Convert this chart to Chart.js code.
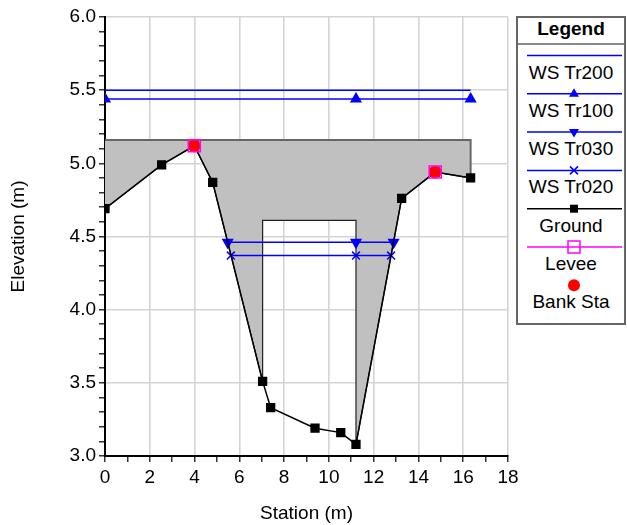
<!DOCTYPE html>
<html>
<head>
<meta charset="utf-8">
<script src="https://cdn.jsdelivr.net/npm/chart.js@4.4.0/dist/chart.umd.min.js"></script>
<style>
  body { margin: 0; background: #fff; }
  #wrap { position: relative; width: 627px; height: 525px; font-family: "Liberation Sans", Arial, sans-serif; }
  #legend { position: absolute; left: 516px; top: 16px; width: 110px; height: 309px; box-sizing: border-box;
            border: 2px solid #666; background: #fff; }
  #legend svg { position: absolute; left: 0; top: 0; }
  .lg-text { position: absolute; left: 0; width: 106px; text-align: center; font-size: 19px; line-height: 22px; color: #000; }
  .lg-title { font-weight: bold; }
</style>
</head>
<body>
<div id="wrap">
  <canvas id="xs" width="627" height="525"></canvas>
  <div id="legend"></div>
</div>
<script>
// cross section, station (m) / elevation (m)
const groundSta  = [0, 2.53, 3.99, 4.81, 7.04, 7.40, 9.38, 10.53, 11.21, 13.25, 14.75, 16.33];
const groundElev = [4.69, 4.99, 5.12, 4.87, 3.51, 3.33, 3.19, 3.16, 3.08, 4.76, 4.94, 4.90];

const leveeSta  = [3.99, 14.75];
const leveeElev = [5.12, 4.94];
const bankSta   = [3.99, 14.75];
const bankElev  = [5.12, 4.94];

// bridge deck and opening
const deckSta  = [0, 16.33, 16.33];
const deckElev = [5.16, 5.16, 4.90];
const openingSta  = [7.04, 7.04, 11.21, 11.21];
const openingElev = [3.51, 4.61, 4.61, 3.08];

const wsTr200Sta = [0, 11.21, 16.33];
const wsTr200    = [5.50, 5.50, 5.50];
const wsTr100Sta = [0, 11.21, 16.33];
const wsTr100    = [5.44, 5.44, 5.44];
const wsTr030Sta = [5.48, 11.21, 12.89];
const wsTr030    = [4.46, 4.46, 4.46];
const wsTr020Sta = [5.62, 11.21, 12.78];
const wsTr020    = [4.37, 4.37, 4.37];

const xTicks = [0, 2, 4, 6, 8, 10, 12, 14, 16, 18];
const yTicks = [3.0, 3.5, 4.0, 4.5, 5.0, 5.5, 6.0];

function pts(xs, ys) {
    return xs.map((x, i) => ({ x: x, y: ys[i] }));
}

// lower edge of the gray deck area: ground, then around the opening
const deckBottom = pts(groundSta, groundElev).filter(p => p.x < openingSta[0])
    .concat(pts(openingSta, openingElev))
    .concat(pts(groundSta, groundElev).filter(p => p.x > openingSta[3]));

const blue = '#0000ff';

Chart.defaults.font.family = '"Liberation Sans", Arial, sans-serif';
Chart.defaults.font.size = 19;
Chart.defaults.color = '#000';

function isMajor(v, list) {
    return list.some(t => Math.abs(t - v) < 1e-6);
}

new Chart(document.getElementById('xs').getContext('2d'), {
    type: 'scatter',
    data: {
        datasets: [
            { label: 'Levee', data: pts(leveeSta, leveeElev), showLine: false, order: 0,
              pointStyle: 'rect', pointRadius: 8.5, pointBackgroundColor: 'rgba(0,0,0,0)',
              pointBorderColor: '#ff00ff', pointBorderWidth: 1.5 },
            { label: 'Bank Sta', data: pts(bankSta, bankElev), showLine: false, order: 1,
              pointStyle: 'circle', pointRadius: 6, pointBackgroundColor: '#ff0000', pointBorderColor: '#ff0000' },
            { label: 'Ground', data: pts(groundSta, groundElev), showLine: true, order: 2,
              borderColor: '#000', borderWidth: 1.5, pointStyle: 'rect', pointRadius: 5.5,
              pointBackgroundColor: '#000', pointBorderColor: '#000' },
            { label: 'WS Tr020', data: pts(wsTr020Sta, wsTr020), showLine: true, order: 3,
              borderColor: blue, borderWidth: 1.5, pointStyle: 'crossRot', pointRadius: 5.5,
              pointBorderColor: blue, pointBorderWidth: 1.5 },
            { label: 'WS Tr030', data: pts(wsTr030Sta, wsTr030), showLine: true, order: 4,
              borderColor: blue, borderWidth: 1.5, pointStyle: 'triangle', pointRotation: 180, pointRadius: 5.5,
              pointBackgroundColor: blue, pointBorderColor: blue },
            { label: 'WS Tr100', data: pts(wsTr100Sta, wsTr100), showLine: true, order: 5,
              borderColor: blue, borderWidth: 1.5, pointStyle: 'triangle', pointRadius: 5.5,
              pointBackgroundColor: blue, pointBorderColor: blue },
            { label: 'WS Tr200', data: pts(wsTr200Sta, wsTr200), showLine: true, order: 6,
              borderColor: blue, borderWidth: 1.5, pointRadius: 0 },
            { label: 'deck', data: pts(deckSta, deckElev), showLine: true, order: 7,
              borderColor: '#666', borderWidth: 2, pointRadius: 0 },
            { label: 'deckFill', data: deckBottom, showLine: true, order: 8,
              borderColor: '#222', borderWidth: 1.2, pointRadius: 0,
              fill: { value: deckElev[0] }, backgroundColor: '#c0c0c0' }
        ]
    },
    options: {
        responsive: false,
        animation: false,
        layout: { padding: { top: 17, right: 119, left: 0, bottom: 0 } },
        plugins: { legend: { display: false }, tooltip: { enabled: false } },
        scales: {
            x: {
                type: 'linear', min: 0, max: 18,
                afterFit: s => { s.height = 69; },
                ticks: { stepSize: 1, autoSkip: false, maxRotation: 0, padding: 4,
                         callback: v => isMajor(v, xTicks) ? v : '' },
                grid: { color: c => (c.tick && isMajor(c.tick.value, xTicks)) ? '#d4d4d4' : 'rgba(0,0,0,0)',
                        lineWidth: 1.6, tickColor: '#000', tickWidth: 1.2, tickLength: 6 },
                border: { color: '#000', width: 2 },
                title: { display: true, text: 'Station (m)', padding: { top: 0, bottom: 0 } }
            },
            y: {
                type: 'linear', min: 3, max: 6,
                afterFit: s => { s.width = 105; },
                ticks: { stepSize: 0.1, autoSkip: false, padding: 3,
                         callback: v => isMajor(v, yTicks) ? v.toFixed(1) : '' },
                grid: { color: c => (c.tick && isMajor(c.tick.value, yTicks)) ? '#d4d4d4' : 'rgba(0,0,0,0)',
                        lineWidth: 1.6, tickColor: '#000', tickWidth: 1.2, tickLength: 6 },
                border: { color: '#000', width: 2 },
                title: { display: true, text: 'Elevation (m)', padding: { top: 7, bottom: 0 } }
            }
        }
    }
});

// legend: line sample with marker, label underneath
const legendItems = [
    { label: 'WS Tr200', line: blue, marker: null },
    { label: 'WS Tr100', line: blue, marker: 'up' },
    { label: 'WS Tr030', line: blue, marker: 'down' },
    { label: 'WS Tr020', line: blue, marker: 'x' },
    { label: 'Ground', line: '#000', marker: 'square' },
    { label: 'Levee', line: '#ff00ff', marker: 'open' },
    { label: 'Bank Sta', line: null, marker: 'dot' }
];

function markerSvg(kind, cx, cy) {
    switch (kind) {
        case 'up':
            return `<polygon points="${cx},${cy - 5.5} ${cx + 5},${cy + 3} ${cx - 5},${cy + 3}" fill="${blue}"/>`;
        case 'down':
            return `<polygon points="${cx},${cy + 5.5} ${cx + 5},${cy - 3} ${cx - 5},${cy - 3}" fill="${blue}"/>`;
        case 'x':
            return `<path d="M${cx - 4},${cy - 4}L${cx + 4},${cy + 4}M${cx + 4},${cy - 4}L${cx - 4},${cy + 4}" stroke="${blue}" stroke-width="1.5"/>`;
        case 'square':
            return `<rect x="${cx - 4}" y="${cy - 4}" width="8" height="8" fill="#000"/>`;
        case 'open':
            return `<rect x="${cx - 6}" y="${cy - 6}" width="12" height="12" fill="none" stroke="#ff00ff" stroke-width="1.5"/>`;
        case 'dot':
            return `<circle cx="${cx}" cy="${cy}" r="6" fill="#ff0000"/>`;
    }
    return '';
}

const legend = document.getElementById('legend');
let svg = '<svg width="106" height="305" xmlns="http://www.w3.org/2000/svg">';
svg += '<rect x="0" y="25" width="106" height="2" fill="#888"/>';
let html = '<div class="lg-text lg-title" style="top:0px">Legend</div>';
legendItems.forEach((item, i) => {
    const y = 37.5 + 38.3 * i;
    if (item.line) {
        svg += `<line x1="9" y1="${y}" x2="104" y2="${y}" stroke="${item.line}" stroke-width="1.5"/>`;
    }
    svg += markerSvg(item.marker, 56, y);
    html += `<div class="lg-text" style="top:${y + 17 - 11}px">${item.label}</div>`;
});
svg += '</svg>';
legend.innerHTML = svg + html;
</script>
</body>
</html>
